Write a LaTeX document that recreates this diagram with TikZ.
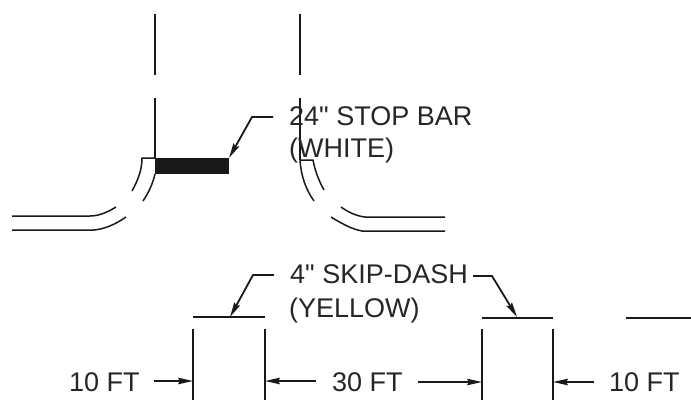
\documentclass[tikz,border=0pt]{standalone}
\usepackage{fontspec}
\setmainfont{Liberation Sans}[Ligatures=TeXOff]
\usetikzlibrary{arrows.meta}
\tikzset{
 ln/.style={line width=1.5pt,black!90},
 thick ln/.style={line width=2pt,black!90},
 lead/.style={line width=1.8pt,black!90,-{Stealth[length=15pt,width=6.5pt,inset=2pt]}},
 lab/.style={inner sep=0pt,anchor=base west,font=\fontsize{27}{30}\selectfont,text=black!85}
}
\begin{document}
\begin{tikzpicture}[x=1pt,y=-1pt]
\useasboundingbox (0,0) rectangle (691,400);
% road centre lines
\draw[ln] (155,14) -- (155,75);
\draw[ln] (155,98) -- (155,158);
\draw[ln] (300,14) -- (300,75);
\draw[ln] (300,98) -- (300,160);
% stop bar
\fill[black!90] (155,158) rectangle (229,174);
\coordinate (bar) at (229,158);
% left curb
\draw[ln] (155,158) -- (142,158) .. controls (142,170) and (138,180) .. (132,191);
\draw[ln] (155,174) .. controls (153,183) and (149,192) .. (143,201);
\draw[ln] (12,216) -- (90,216) .. controls (99,216) and (108,212) .. (116,207);
\draw[ln] (12,230) -- (94,230) .. controls (105,229) and (116,224) .. (126,217);
% right curb
\draw[ln] (300,160) .. controls (301,176) and (306,190) .. (314,201);
\draw[ln] (300,160) -- (313,160) .. controls (315,171) and (319,181) .. (324,190);
\draw[ln] (341,207) .. controls (348,212) and (356,216) .. (365,217) -- (445,217);
\draw[ln] (331,217) .. controls (341,223) and (351,229) .. (362,231) -- (445,231);
% labels
\node[lab] (stop) at (289,125.5) {24" STOP BAR};
\node[lab] (white) at (289,157) {(WHITE)};
\node[lab] (skip) at (290,283) {4" SKIP-DASH};
\node[lab] (yellow) at (289,317) {(YELLOW)};
\node[lab] (ta) at (69,391) {10 FT};
\node[lab] (tb) at (332,391) {30 FT};
\node[lab] (tc) at (609,391) {10 FT};
% leaders
\coordinate (k1) at (273,117);
\coordinate (k2) at (252,117);
\draw[lead] (k1) -- (k2) -- (bar);
% dashes
\coordinate (d1a) at (193,317); \coordinate (d1b) at (265,317);
\coordinate (d2a) at (482,318); \coordinate (d2b) at (553,318);
\coordinate (d3a) at (626,318); \coordinate (d3b) at (691,318);
\draw[thick ln] (d1a) -- (d1b);
\draw[thick ln] (d2a) -- (d2b);
\draw[thick ln] (d3a) -- (d3b);
\coordinate (t1) at (230,317); \coordinate (t2) at (517,317);
\coordinate (m1) at (274,275); \coordinate (m2) at (253,275);
\coordinate (m3) at (473,276); \coordinate (m4) at (492,276);
\draw[lead] (m1) -- (m2) -- (t1);
\draw[lead] (m3) -- (m4) -- (t2);
% extension lines
\coordinate (v1) at (193,329); \coordinate (v1e) at (193,400);
\coordinate (v2) at (265,329); \coordinate (v2e) at (265,400);
\coordinate (v3) at (482,329); \coordinate (v3e) at (482,400);
\coordinate (v4) at (553,329); \coordinate (v4e) at (553,400);
\draw[ln] (v1) -- (v1e);
\draw[ln] (v2) -- (v2e);
\draw[ln] (v3) -- (v3e);
\draw[ln] (v4) -- (v4e);
% dimension arrows
\coordinate (a1) at (154,381); \coordinate (a2) at (316,381);
\coordinate (a3) at (418,382); \coordinate (a4) at (594,382);
\draw[lead] (a1) -- (193,381);
\draw[lead] (a2) -- (265,381);
\draw[lead] (a3) -- (482,382);
\draw[lead] (a4) -- (553,382);
\end{tikzpicture}
\end{document}
